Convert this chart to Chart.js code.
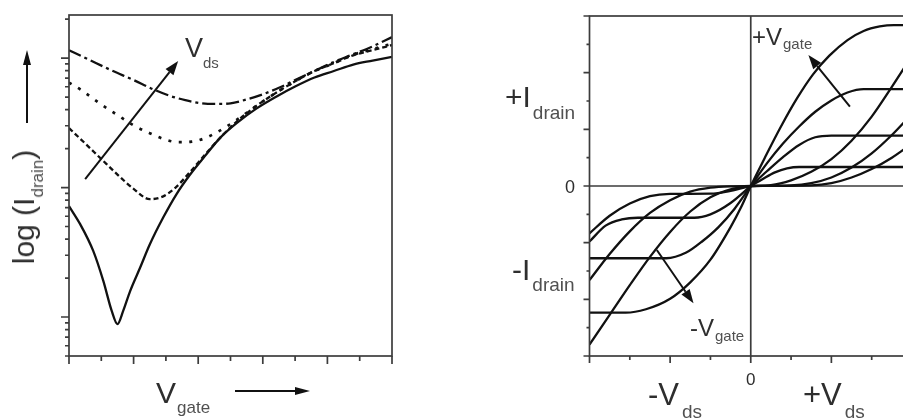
<!DOCTYPE html>
<html>
<head>
<meta charset="utf-8">
<script src="https://cdn.jsdelivr.net/npm/chart.js@4.4.0/dist/chart.umd.min.js"></script>
<style>
html, body { margin: 0; padding: 0; width: 903px; height: 419px; overflow: hidden; background: #fff; }
#leftBox { position: absolute; left: 0; top: 0; }
#rightBox { position: absolute; left: 480px; top: 0; }
.lbl { position: absolute; font-family: "Liberation Sans", Arial, sans-serif; line-height: 1; color: #2e2e2e; white-space: nowrap; }
.lbl .sub { position: relative; line-height: 0; color: #505050; }
</style>
</head>
<body>
<canvas id="leftBox" width="420" height="419"></canvas>
<canvas id="rightBox" width="440" height="419"></canvas>

<!-- transfer curve labels -->
<div class="lbl" style="left:24px; top:207px; font-size:30px; transform:translate(-50%,-50%) rotate(-90deg);">log (I<span class="sub" style="font-size:17px; top:9px;">drain</span>)</div>
<div class="lbl" style="left:185px; top:35px; font-size:27px;">V<span class="sub" style="font-size:15px; top:11px;">ds</span></div>
<div class="lbl" style="left:156px; top:378px; font-size:30px;">V<span class="sub" style="font-size:17px; top:10px; margin-left:1px;">gate</span></div>

<!-- output curve labels -->
<div class="lbl" style="left:505px; top:82px; font-size:30px;">+I<span class="sub" style="font-size:19px; top:12px; margin-left:2px;">drain</span></div>
<div class="lbl" style="left:565px; top:178px; font-size:18px;">0</div>
<div class="lbl" style="left:512px; top:255px; font-size:30px;">-I<span class="sub" style="font-size:19px; top:11px; margin-left:2px;">drain</span></div>
<div class="lbl" style="left:746px; top:371px; font-size:17px;">0</div>
<div class="lbl" style="left:648px; top:379px; font-size:31px;">-V<span class="sub" style="font-size:19px; top:13px; margin-left:3px;">ds</span></div>
<div class="lbl" style="left:803px; top:379px; font-size:31px;">+V<span class="sub" style="font-size:19px; top:13px; margin-left:3px;">ds</span></div>
<div class="lbl" style="left:752px; top:25px; font-size:24px;">+V<span class="sub" style="font-size:15px; top:4px; margin-left:1px;">gate</span></div>
<div class="lbl" style="left:690px; top:316px; font-size:24px;">-V<span class="sub" style="font-size:15px; top:5px; margin-left:1px;">gate</span></div>

<script>
// ---- transfer characteristics: log(I_drain) vs V_gate ----
const vgSolid = [0, 0.35, 0.75, 1.06, 1.32, 1.5, 1.68, 1.89, 2.2, 2.5, 2.92, 3.33, 3.75, 4.2, 4.7, 5.2, 5.8, 6.4, 7.0, 7.6, 8.2, 8.8, 9.4, 10];
const idSolid = [7.19, 5.19, 3.24, 1.91, 1.12, 0.881, 1.12, 1.58, 2.40, 3.63, 5.89, 8.91, 12.6, 17.4, 24.5, 31.6, 40.7, 50.1, 60.3, 70.8, 79.4, 89.1, 95.5, 102];

const vgDash = [0, 0.5, 1.0, 1.5, 2.0, 2.5, 2.9, 3.3, 3.75, 4.2, 4.7, 5.2, 5.8, 6.4, 7.0, 7.6, 8.2, 8.8, 9.4, 10];
const idDash = [28.8, 21.9, 16.6, 12.6, 9.77, 8.13, 8.51, 10.0, 13.2, 17.8, 24.5, 32.4, 42.7, 53.7, 66.1, 79.4, 91.2, 105, 115, 126];

const vgDot = [0, 0.4, 1.0, 1.5, 2.0, 2.5, 3.0, 3.4, 3.8, 4.2, 4.6, 5.0, 5.4, 5.8, 6.4, 7.0, 7.6, 8.2, 8.8, 9.4, 10];
const idDot = [64.6, 56.2, 43.7, 36.3, 30.2, 26.3, 23.4, 22.4, 22.6, 24.0, 26.9, 30.9, 36.3, 42.7, 53.7, 66.1, 79.4, 91.2, 106, 117, 129];

const vgDashDot = [0, 0.6, 1.27, 2.0, 2.6, 3.1, 3.6, 4.1, 4.6, 5.0, 5.5, 6.0, 6.5, 7.0, 7.6, 8.2, 8.8, 9.4, 10];
const idDashDot = [115, 97.7, 81.3, 67.6, 57.5, 51.3, 47.3, 44.7, 44.2, 44.7, 47.9, 52.5, 58.9, 67.6, 79.4, 93.3, 107, 123, 145];

const gateTicks = [0, 1, 2, 3, 4, 5, 6, 7, 8, 9, 10];
const gateMajor = [0, 2, 4, 6, 8, 10];
const currentTicks = [0.5, 0.6, 0.7, 0.8, 0.9, 1, 2, 3, 4, 5, 6, 7, 8, 9, 10, 20, 30, 40, 50, 60, 70, 80, 90, 100, 200];
const currentMajor = [1, 10, 100];
const vdsArrow = [[0.5, 11.6], [3.38, 94.8]];

// ---- output characteristics: I_drain vs V_ds ----
// positive quadrant
const vdsA1 = [0, 0.35, 0.75, 1.15, 1.55, 1.95, 2.4, 2.8, 3.2, 3.55, 4.0];
const idA1 = [0, 1.0, 2.1, 3.1, 3.95, 4.6, 5.15, 5.47, 5.63, 5.68, 5.68];
const vdsA2 = [0, 0.4, 0.8, 1.2, 1.6, 2.0, 2.4, 2.8, 4.0];
const idA2 = [0, 0.8, 1.5, 2.1, 2.62, 3.02, 3.3, 3.42, 3.42];
const vdsA3 = [0, 0.4, 0.8, 1.2, 1.6, 2.0, 4.0];
const idA3 = [0, 0.52, 1.02, 1.45, 1.72, 1.78, 1.78];
const vdsA4 = [0, 0.3, 0.6, 0.9, 1.2, 4.0];
const idA4 = [0, 0.25, 0.48, 0.62, 0.67, 0.67];
const vdsB1 = [0, 0.5, 1.0, 1.5, 2.0, 2.5, 3.0, 3.5, 4.0];
const idB1 = [0, 0.03, 0.2, 0.5, 0.95, 1.6, 2.45, 3.5, 4.6];
const vdsB2 = [0, 1.0, 1.5, 2.0, 2.5, 3.0, 3.5, 4.0];
const idB2 = [0, 0.02, 0.1, 0.3, 0.65, 1.15, 1.8, 2.55];
const vdsB3 = [0, 1.5, 2.0, 2.5, 3.0, 3.5, 4.0];
const idB3 = [0, 0.02, 0.1, 0.3, 0.6, 1.0, 1.5];

// negative quadrant
const vdsC1 = [-4, -3.1, -2.6, -2.0, -1.5, -1.0, -0.5, -0.25, 0];
const idC1 = [-4.47, -4.47, -4.35, -3.98, -3.4, -2.6, -1.45, -0.78, 0];
const vdsC2 = [-4, -2.1, -1.6, -1.2, -0.8, -0.4, 0];
const idC2 = [-2.55, -2.55, -2.35, -1.95, -1.45, -0.8, 0];
const vdsC3 = [-4, -3.6, -3.2, -2.8, -1.4, -1.0, -0.5, 0];
const idC3 = [-1.96, -1.4, -1.18, -1.12, -1.12, -1.0, -0.6, 0];
const vdsC4 = [-4, -3.5, -3.0, -2.5, -2.0, -1.0, -0.5, 0];
const idC4 = [-1.67, -1.05, -0.62, -0.36, -0.28, -0.27, -0.17, 0];
const vdsD1 = [-4, -3.5, -3.0, -2.5, -2.0, -1.5, -1.0, -0.5, 0];
const idD1 = [-3.32, -2.4, -1.6, -0.95, -0.5, -0.2, -0.06, -0.01, 0];
const vdsD2 = [-4, -3.5, -3.0, -2.5, -2.0, -1.5, -1.0, -0.5, 0];
const idD2 = [-5.6, -4.55, -3.5, -2.5, -1.62, -0.9, -0.4, -0.12, 0];

const vdsTicks = [-4, -3, -2, -1, 0, 1, 2, 3, 4];
const vdsMajor = [-4, -2, 0, 2, 4];
const idTicks = [-6, -5, -4, -3, -2, -1, 0, 1, 2, 3, 4, 5, 6];
const idMajor = [-6, -4, -2, 0, 2, 4, 6];
const posGateArrow = [[2.46, 2.8], [1.43, 4.62]];
const negGateArrow = [[-2.33, -2.26], [-1.42, -4.14]];

const INK = '#111';
const FRAME = '#3c3c3c';

function pairs(xs, ys) {
    return xs.map((v, i) => ({ x: v, y: ys[i] }));
}

function curve(xs, ys, dash, width) {
    return {
        data: pairs(xs, ys),
        borderColor: INK,
        borderWidth: width || 2.3,
        borderDash: dash || [],
        pointRadius: 0,
        fill: false,
        cubicInterpolationMode: 'monotone'
    };
}

function drawArrow(ctx, x1, y1, x2, y2, head, half) {
    const ang = Math.atan2(y2 - y1, x2 - x1);
    const bx = x2 - head * Math.cos(ang);
    const by = y2 - head * Math.sin(ang);
    ctx.beginPath();
    ctx.moveTo(x1, y1);
    ctx.lineTo(bx, by);
    ctx.stroke();
    ctx.beginPath();
    ctx.moveTo(x2, y2);
    ctx.lineTo(bx + half * Math.sin(ang), by - half * Math.cos(ang));
    ctx.lineTo(bx - half * Math.sin(ang), by + half * Math.cos(ang));
    ctx.closePath();
    ctx.fill();
}

// frame, tick marks, zero lines and arrows, all placed through the chart scales
const frameTicks = {
    id: 'frameTicks',
    beforeDatasetsDraw(chart, args, opts) {
        if (!opts.zeroLines) return;
        const { ctx, chartArea: a, scales: { x, y } } = chart;
        ctx.save();
        ctx.strokeStyle = FRAME;
        ctx.lineWidth = 1.7;
        const x0 = x.getPixelForValue(0);
        const y0 = y.getPixelForValue(0);
        ctx.beginPath();
        ctx.moveTo(a.left, y0);
        ctx.lineTo(a.right, y0);
        ctx.moveTo(x0, a.top);
        ctx.lineTo(x0, a.bottom);
        ctx.stroke();
        ctx.restore();
    },
    afterDatasetsDraw(chart, args, opts) {
        const { ctx, chartArea: a, scales: { x, y } } = chart;
        ctx.save();
        ctx.strokeStyle = FRAME;
        ctx.lineWidth = 1.7;
        ctx.strokeRect(a.left, a.top, a.right - a.left, a.bottom - a.top);

        ctx.beginPath();
        opts.xTicks.forEach(v => {
            const px = x.getPixelForValue(v);
            const len = opts.xMajor.includes(v) ? opts.xLen[0] : opts.xLen[1];
            ctx.moveTo(px, a.bottom);
            ctx.lineTo(px, a.bottom + len);
        });
        opts.yTicks.forEach(v => {
            const py = y.getPixelForValue(v);
            const len = opts.yMajor.includes(v) ? opts.yLen[0] : opts.yLen[1];
            ctx.moveTo(a.left, py);
            ctx.lineTo(a.left - len, py);
        });
        ctx.stroke();

        ctx.strokeStyle = INK;
        ctx.fillStyle = INK;
        ctx.lineWidth = 2;
        opts.arrows.forEach(ar => {
            drawArrow(ctx,
                x.getPixelForValue(ar[0][0]), y.getPixelForValue(ar[0][1]),
                x.getPixelForValue(ar[1][0]), y.getPixelForValue(ar[1][1]), 14, 5);
        });

        // arrows beside the axis titles
        if (opts.titleArrows) {
            drawArrow(ctx, a.left - 42, a.top + 108, a.left - 42, a.top + 35, 15, 4);
            drawArrow(ctx, a.left + 166, a.bottom + 35, a.left + 241, a.bottom + 35, 15, 4);
        }
        ctx.restore();
    }
};

new Chart(document.getElementById('leftBox'), {
    type: 'line',
    data: {
        datasets: [
            curve(vgSolid, idSolid),
            curve(vgDash, idDash, [5, 3]),
            curve(vgDot, idDot, [3, 7.5], 2.7),
            curve(vgDashDot, idDashDot, [13, 4, 3, 4])
        ]
    },
    options: {
        responsive: false,
        animation: false,
        layout: { padding: { left: 69, right: 28, top: 15, bottom: 63 } },
        scales: {
            x: { type: 'linear', min: 0, max: 10, display: false },
            y: { type: 'logarithmic', min: 0.5, max: 215, display: false }
        },
        plugins: {
            legend: { display: false },
            tooltip: { enabled: false },
            frameTicks: {
                xTicks: gateTicks, xMajor: gateMajor, xLen: [8, 5],
                yTicks: currentTicks, yMajor: currentMajor, yLen: [8, 4],
                arrows: [vdsArrow],
                titleArrows: true
            }
        }
    },
    plugins: [frameTicks]
});

new Chart(document.getElementById('rightBox'), {
    type: 'line',
    data: {
        datasets: [
            curve(vdsA1, idA1), curve(vdsA2, idA2), curve(vdsA3, idA3), curve(vdsA4, idA4),
            curve(vdsB1, idB1), curve(vdsB2, idB2), curve(vdsB3, idB3),
            curve(vdsC1, idC1), curve(vdsC2, idC2), curve(vdsC3, idC3), curve(vdsC4, idC4),
            curve(vdsD1, idD1), curve(vdsD2, idD2)
        ]
    },
    options: {
        responsive: false,
        animation: false,
        layout: { padding: { left: 109.5, right: 8, top: 16, bottom: 63 } },
        scales: {
            x: { type: 'linear', min: -4, max: 4, display: false },
            y: { type: 'linear', min: -6, max: 6, display: false }
        },
        plugins: {
            legend: { display: false },
            tooltip: { enabled: false },
            frameTicks: {
                xTicks: vdsTicks, xMajor: vdsMajor, xLen: [7, 4],
                yTicks: idTicks, yMajor: idMajor, yLen: [6, 3],
                arrows: [posGateArrow, negGateArrow],
                zeroLines: true
            }
        }
    },
    plugins: [frameTicks]
});
</script>
</body>
</html>
